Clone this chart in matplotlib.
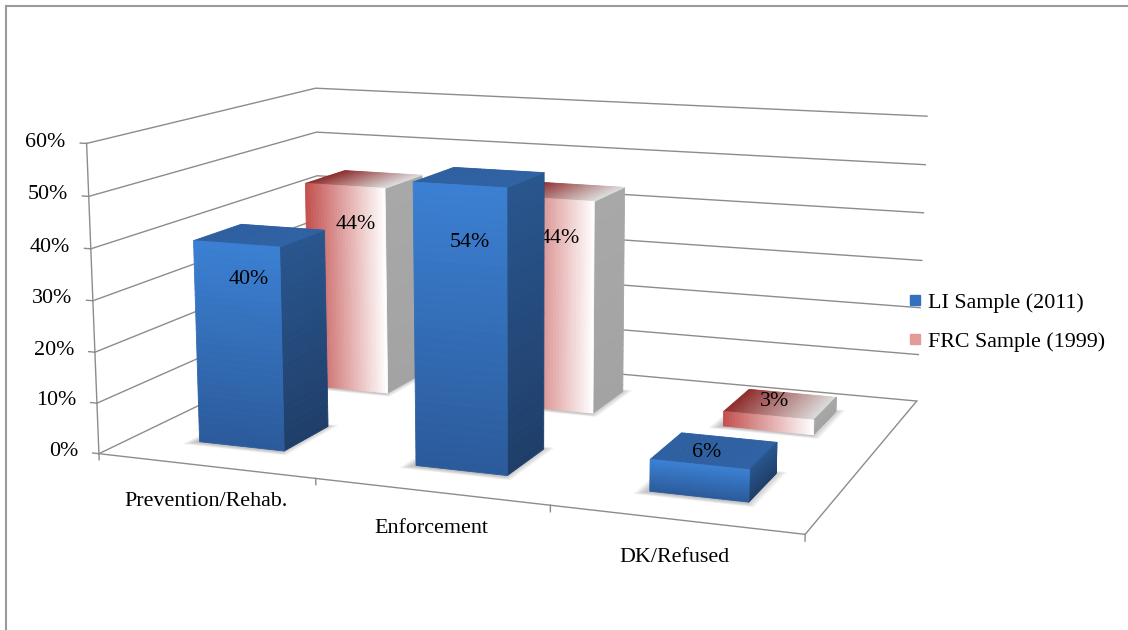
import numpy as np
import matplotlib.pyplot as plt
from matplotlib.colors import to_rgb
from matplotlib.lines import Line2D
from matplotlib.text import Text
from mpl_toolkits.mplot3d.art3d import Poly3DCollection

categories = ['Prevention/Rehab.', 'Enforcement', 'DK/Refused']
series_names = ['LI Sample (2011)', 'FRC Sample (1999)']
li_values = [0.40, 0.54, 0.06]
frc_values = [0.44, 0.44, 0.03]
z_ticks = [0.0, 0.1, 0.2, 0.3, 0.4, 0.5, 0.6]
z_labels = ['0%', '10%', '20%', '30%', '40%', '50%', '60%']

plt.rcParams['font.family'] = ['Liberation Serif', 'DejaVu Serif']
plt.rcParams['font.size'] = 15.8

GRID = '#8c8c8c'
BAR_W = 0.4      # fraction of a category
BAR_D = 0.4      # fraction of a series row
N_ROWS = 2

# (front bottom/left, front top/right), (top left, top right), (side bottom, side top)
BLUE = dict(front=('#2b5a9a', '#3b80d3'), top=('#2e5fa0', '#2f62a4'),
            side=('#1f3e69', '#29568e'), fade_x=False)
RED = dict(front=('#c24e4c', '#ffffff'), top=('#8e2a2a', '#dcdcdc'),
           side=('#a3a3a3', '#a8a8a8'), fade_x=True)


def mix(c1, c2, t):
    a, b = np.array(to_rgb(c1)), np.array(to_rgb(c2))
    return tuple(a + (b - a) * t)


def bar_faces(x0, x1, y0, y1, h, style, n=30):
    polys, cols = [], []
    for k in range(n):
        t0, t1 = k / n, (k + 1) / n
        tm = (t0 + t1) / 2
        # front face
        if style['fade_x']:
            xa, xb = x0 + (x1 - x0) * t0, x0 + (x1 - x0) * t1
            polys.append([(xa, y0, 0), (xb, y0, 0), (xb, y0, h), (xa, y0, h)])
        else:
            za, zb = h * t0, h * t1
            polys.append([(x0, y0, za), (x1, y0, za), (x1, y0, zb), (x0, y0, zb)])
        cols.append(mix(*style['front'], tm))
        # top face, strips along x
        xa, xb = x0 + (x1 - x0) * t0, x0 + (x1 - x0) * t1
        polys.append([(xa, y0, h), (xb, y0, h), (xb, y1, h), (xa, y1, h)])
        cols.append(mix(*style['top'], tm))
        # right side face, strips along z
        za, zb = h * t0, h * t1
        polys.append([(x1, y0, za), (x1, y1, za), (x1, y1, zb), (x1, y0, zb)])
        cols.append(mix(*style['side'], tm))
    return polys, cols


def floor_shadow(x0, x1, y0, y1, zo):
    # soft shadow on the floor: stacked, widening translucent footprints
    for k in range(7):
        m = 0.006 * k
        sx0, sx1 = x0 - m - 0.015, x1 + m
        sy0, sy1 = y0 - m - 0.02, y1 + m
        poly = [[(sx0, sy0, 0), (sx1, sy0, 0), (sx1, sy1, 0), (sx0, sy1, 0)]]
        ax.add_collection3d(Poly3DCollection(poly, facecolors=(0, 0, 0, 0.035),
                                             edgecolors='none', zorder=zo))


fig = plt.figure(figsize=(11.28, 6.3), dpi=100)
ax = fig.add_axes([0.05, -0.189, 0.8103, 1.4508], projection='3d',
                  computed_zorder=False)
ax.set_proj_type('persp', focal_length=0.45)
ax.view_init(elev=11.5, azim=-69)
ax.set_box_aspect((693, 480, 300), zoom=0.96)
n_cat = len(categories)
ax.set_xlim(0, n_cat)
ax.set_ylim(0, N_ROWS)
ax.set_zlim(0, z_ticks[-1])
ax.set_xticks([])
ax.set_yticks([])
ax.set_zticks([])
ax.set_axis_off()

# side wall and back wall gridlines
for z in z_ticks:
    ax.plot([0, 0, n_cat], [0, N_ROWS, N_ROWS], [z, z, z], color=GRID, lw=1.0,
            zorder=1)
# floor front and right edges
ax.plot([0, n_cat, n_cat], [0, 0, N_ROWS], [0, 0, 0], color=GRID, lw=1.0,
        zorder=1)

# value axis on the front-left edge of the side wall
ax.plot([0, 0], [0, 0], [0, z_ticks[-1]], color=GRID, lw=1.0, zorder=1)
for z, lab in zip(z_ticks, z_labels):
    ax.plot([0, -0.03], [0, 0], [z, z], color=GRID, lw=1.0, zorder=1)
    ax.text(-0.1, 0, z, lab, ha='right', va='center')

# category separators and names along the front edge
for b in range(n_cat + 1):
    ax.plot([b, b], [0, 0], [0, -0.012], color=GRID, lw=1.0, zorder=1)
for i, cat in enumerate(categories):
    ax.text(i + 0.5, 0, -0.07, cat, ha='center', va='center')

# back row (FRC) first, then the front row (LI)
rows = [(frc_values, 1, RED, 2), (li_values, 0, BLUE, 4)]
for values, row, style, zo in rows:
    y0 = row + (1 - BAR_D) / 2
    y1 = y0 + BAR_D
    for i, v in enumerate(values):
        x0 = i + (1 - BAR_W) / 2
        x1 = x0 + BAR_W
        floor_shadow(x0, x1, y0, y1, zo - 0.5)
        polys, cols = bar_faces(x0, x1, y0, y1, v, style)
        pc = Poly3DCollection(polys, facecolors=cols, edgecolors=cols,
                              linewidths=0.6, zorder=zo)
        ax.add_collection3d(pc)
        ax.text(i + 0.5, y0 + 0.1, 0.74 * v + 0.025, f'{v:.0%}',
                ha='center', va='center', zorder=zo + 1)

handles = [Line2D([], [], ls='', marker='s', markersize=7, color='#3570bf'),
           Line2D([], [], ls='', marker='s', markersize=7, color='#e39a98')]
fig.legend(handles, series_names, loc='center left',
           bbox_to_anchor=(889 / 1128, 1 - 322 / 630), frameon=False,
           handlelength=0.6, handletextpad=0.3, labelspacing=0.85)

# chart frame
fig.add_artist(Line2D([6 / 1128, 6 / 1128], [0, 1 - 6 / 630],
                      transform=fig.transFigure, color='#9a9a9a', lw=1.5))
fig.add_artist(Line2D([6 / 1128, 1], [1 - 6 / 630, 1 - 6 / 630],
                      transform=fig.transFigure, color='#9a9a9a', lw=1.5))

# the 3d axes keeps empty label objects around; keep them out of the way
for t in ax.findobj(Text):
    if not t.get_text():
        t.set_visible(False)

fig.savefig('out.png', dpi=100, facecolor='white')
